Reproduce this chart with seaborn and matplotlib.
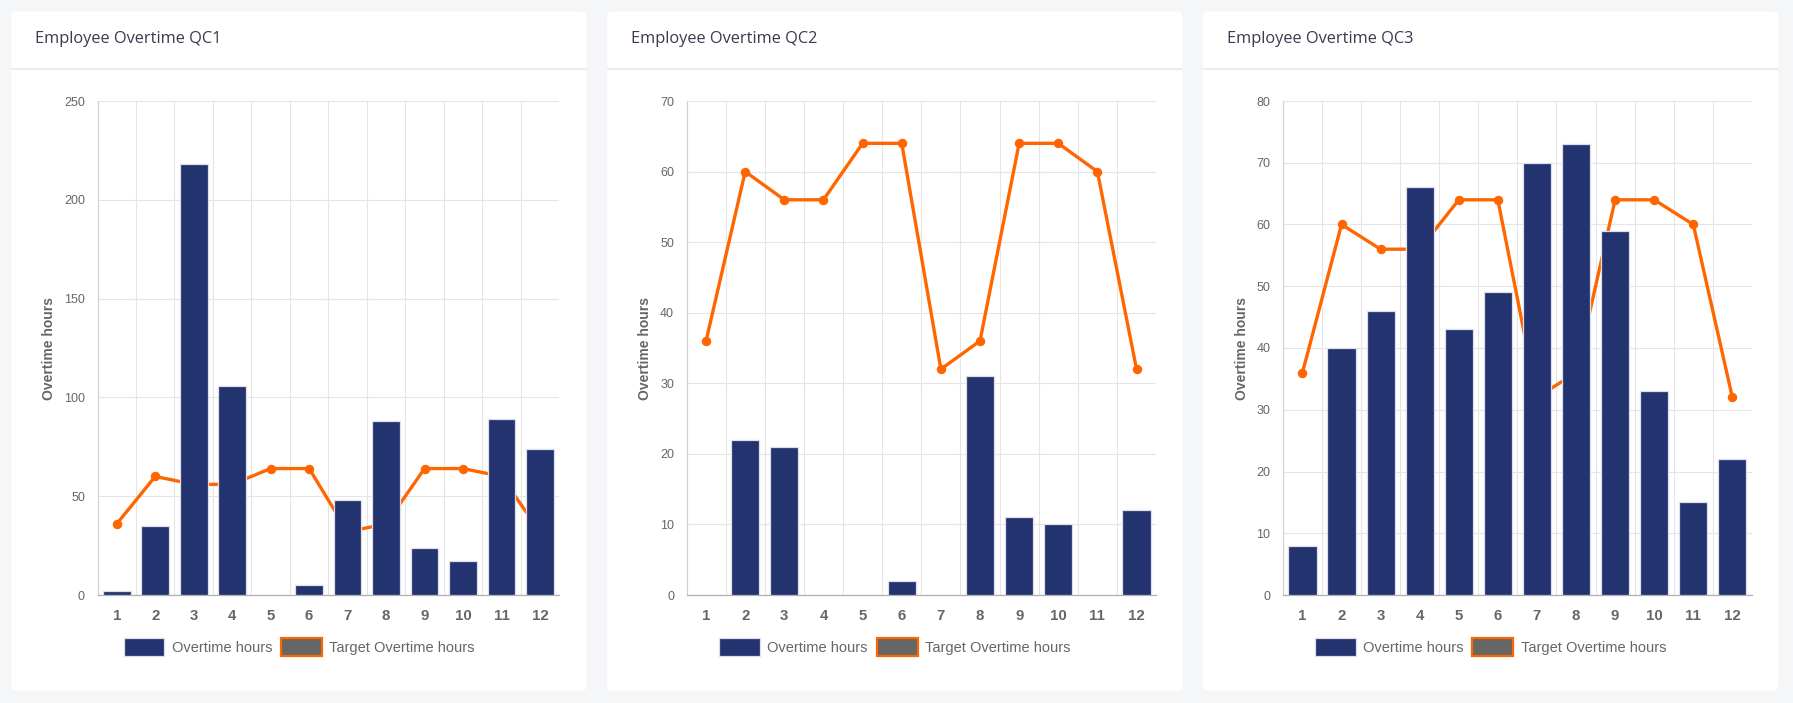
import matplotlib
matplotlib.use("Agg")
import matplotlib.pyplot as plt
import matplotlib.patches as mpatches
from matplotlib.transforms import IdentityTransform
import seaborn as sns
import numpy as np

# ---- data ----
months = ["1", "2", "3", "4", "5", "6", "7", "8", "9", "10", "11", "12"]
target_hours = [36, 60, 56, 56, 64, 64, 32, 36, 64, 64, 60, 32]
qc1_hours = [2, 35, 218, 106, 0, 5, 48, 88, 24, 17, 89, 74]
qc2_hours = [0, 22, 21, 0, 0, 2, 0, 31, 11, 10, 0, 12]
qc3_hours = [8, 40, 46, 66, 43, 49, 70, 73, 59, 33, 15, 22]
titles = ["Employee Overtime QC1", "Employee Overtime QC2", "Employee Overtime QC3"]
y_limits = [250, 70, 80]
y_steps = [50, 10, 10]

sns.set_style("white")
plt.rcParams["font.family"] = ["Liberation Sans", "DejaVu Sans"]

W, H = 1793, 703
fig = plt.figure(figsize=(W / 100, H / 100), dpi=100)
fig.patch.set_facecolor("#f5f6f8")

BAR = "#233370"
ORANGE = "#ff6600"
GRID = "#e5e5e5"
TXT = "#666666"

panels = [(11.4, 586.6), (607.2, 1182.4), (1203.0, 1778.2)]
axes_x = [(97.5, 559.2), (686.5, 1156.1), (1282.9, 1751.9)]
ax_top, ax_bot = 101.0, 595.0
series = [qc1_hours, qc2_hours, qc3_hours]

for i in range(3):
    px0, px1 = panels[i]
    # panel card
    card = mpatches.FancyBboxPatch((px0, H - 690.7), px1 - px0, 690.7 - 11.4,
                                   boxstyle="round,pad=0,rounding_size=5",
                                   transform=IdentityTransform(), facecolor="white",
                                   edgecolor="none", zorder=-3)
    fig.patches.append(card)
    sep = mpatches.Rectangle((px0, H - 69.5), px1 - px0, 1.2, transform=IdentityTransform(),
                             facecolor="#ebebeb", edgecolor="none", zorder=-2)
    fig.patches.append(sep)
    fig.text((px0 + 24) / W, 1 - 39 / H, titles[i], fontsize=11.8, color="#3b3a4f",
             family=["Open Sans", "DejaVu Sans"], fontweight="medium", ha="left", va="center")

    ax0, ax1 = axes_x[i]
    ax = fig.add_axes([ax0 / W, 1 - ax_bot / H, (ax1 - ax0) / W, (ax_bot - ax_top) / H])
    ax.set_zorder(5)
    ax.set_facecolor("white")

    sns.barplot(x=months, y=series[i], order=months, color=BAR, saturation=1,
                width=0.72, edgecolor="#dcdfe8", linewidth=0.9, ax=ax, zorder=3)
    sns.pointplot(x=months, y=target_hours, order=months, color=ORANGE, errorbar=None,
                  markers="o", markersize=5, linewidth=2.4, ax=ax)
    for ln in ax.lines:
        ln.set_zorder(2)
        ln.set_clip_on(False)

    ax.set_xlim(-0.5, 11.5)
    ax.set_ylim(0, y_limits[i])
    ax.set_yticks(np.arange(0, y_limits[i] + 1, y_steps[i]))
    ax.set_xticks(range(12))
    ax.set_xticklabels(months, fontsize=10.8, fontweight="bold", color=TXT)
    ax.set_xticks(np.arange(-0.5, 11.0, 1.0), minor=True)
    ax.tick_params(axis="x", which="major", length=0, pad=10)
    ax.tick_params(axis="x", which="minor", length=7, width=0.8, color=GRID)
    ax.tick_params(axis="y", which="major", length=7, width=0.8, color=GRID,
                   labelsize=9, labelcolor=TXT, pad=2)
    ax.grid(which="minor", axis="x", color=GRID, linewidth=0.8, zorder=0)
    ax.grid(which="major", axis="y", color=GRID, linewidth=0.8, zorder=0)
    ax.set_axisbelow(True)
    for s in ["top", "right"]:
        ax.spines[s].set_visible(False)
    ax.spines["left"].set_color("#d0d0d0")
    ax.spines["left"].set_linewidth(0.8)
    ax.spines["bottom"].set_color("#b0b0b0")
    ax.spines["bottom"].set_linewidth(0.9)
    ax.set_xlabel("")
    ax.set_ylabel("")
    ylab_x = [49, 645, 1242][i]
    fig.text(ylab_x / W, 1 - (ax_top + ax_bot) / 2 / H, "Overtime hours", rotation=90,
             fontsize=10, fontweight="bold", color=TXT, ha="center", va="center")

    handles = [mpatches.Patch(facecolor=BAR, edgecolor="#dcdfe8", linewidth=0.9, label="Overtime hours"),
               mpatches.Patch(facecolor="#666666", edgecolor=ORANGE, linewidth=1.6,
                              label="Target Overtime hours")]
    fig.legend(handles=handles, loc="center", ncol=2,
               bbox_to_anchor=((px0 + px1) / 2 / W, 1 - 647 / H), frameon=False,
               fontsize=10.5, labelcolor=TXT, handlelength=2.8, handleheight=1.6,
               handletextpad=0.5, columnspacing=0.6, borderpad=0)

fig.savefig("out.png", dpi=100, facecolor=fig.get_facecolor())
